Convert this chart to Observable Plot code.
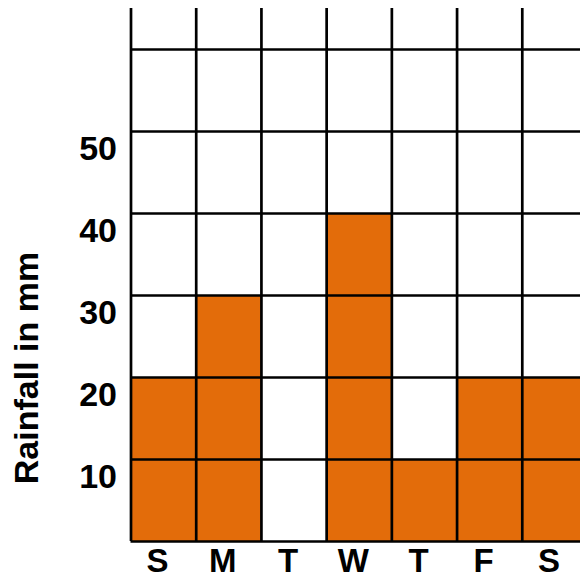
<!DOCTYPE html>
<html><head><meta charset="utf-8">
<script src="https://cdn.jsdelivr.net/npm/d3@7"></script>
<script src="https://cdn.jsdelivr.net/npm/@observablehq/plot@0.6"></script>
<style>html,body{margin:0;padding:0;background:#fff;overflow:hidden}#chart svg{overflow:hidden;display:block}</style>
</head><body><div id="chart"></div>
<script>
const days = ["S","M","T","W","T","F","S"];
const rainfall = [20, 30, 0, 40, 10, 20, 20];
const yTicks = [10, 20, 30, 40, 50];
const gridLevels = [0, 10, 20, 30, 40, 50, 60];
const yMax = 65;
const yLabel = "Rainfall in mm";

const data = days.map((d, i) => ({day: d, index: i, value: rainfall[i]}));
const boundaries = d3.range(0, days.length + 1);
const centers = days.map((d, i) => i + 0.5);

const plot = Plot.plot({
  width: 580, height: 579,
  marginLeft: 130.5, marginRight: 0, marginTop: 8, marginBottom: 38,
  style: {fontFamily: "'Liberation Sans', Arial, sans-serif", fontWeight: "bold", background: "#fff", overflow: "hidden", color: "#000"},
  x: {domain: [0, days.length], range: [130.5, 587]},
  y: {domain: [0, yMax]},
  marks: [
    Plot.rect(data.filter(d => d.value > 0), {x1: "index", x2: d => d.index + 1, y1: 0, y2: "value", fill: "#E36C0A"}),
    Plot.ruleY(gridLevels, {stroke: "#000", strokeWidth: 2.7}),
    Plot.ruleX(boundaries, {stroke: "#000", strokeWidth: 2.7}),
    Plot.axisY(yTicks, {tickSize: 0, tickPadding: 14, fontSize: 34, dy: 18, label: null}),
    Plot.axisX(centers, {tickSize: 0, tickPadding: 7, fontSize: 33, dx: -6, tickFormat: v => days[Math.floor(v)], label: null}),
    Plot.text([yLabel], {frameAnchor: "left", textAnchor: "middle", lineAnchor: "middle", rotate: -90, dx: -103.5, dy: 93, fontSize: 34, fontWeight: "bold", fill: "#000"})
  ]
});
document.getElementById("chart").appendChild(plot);
</script>
</body></html>
